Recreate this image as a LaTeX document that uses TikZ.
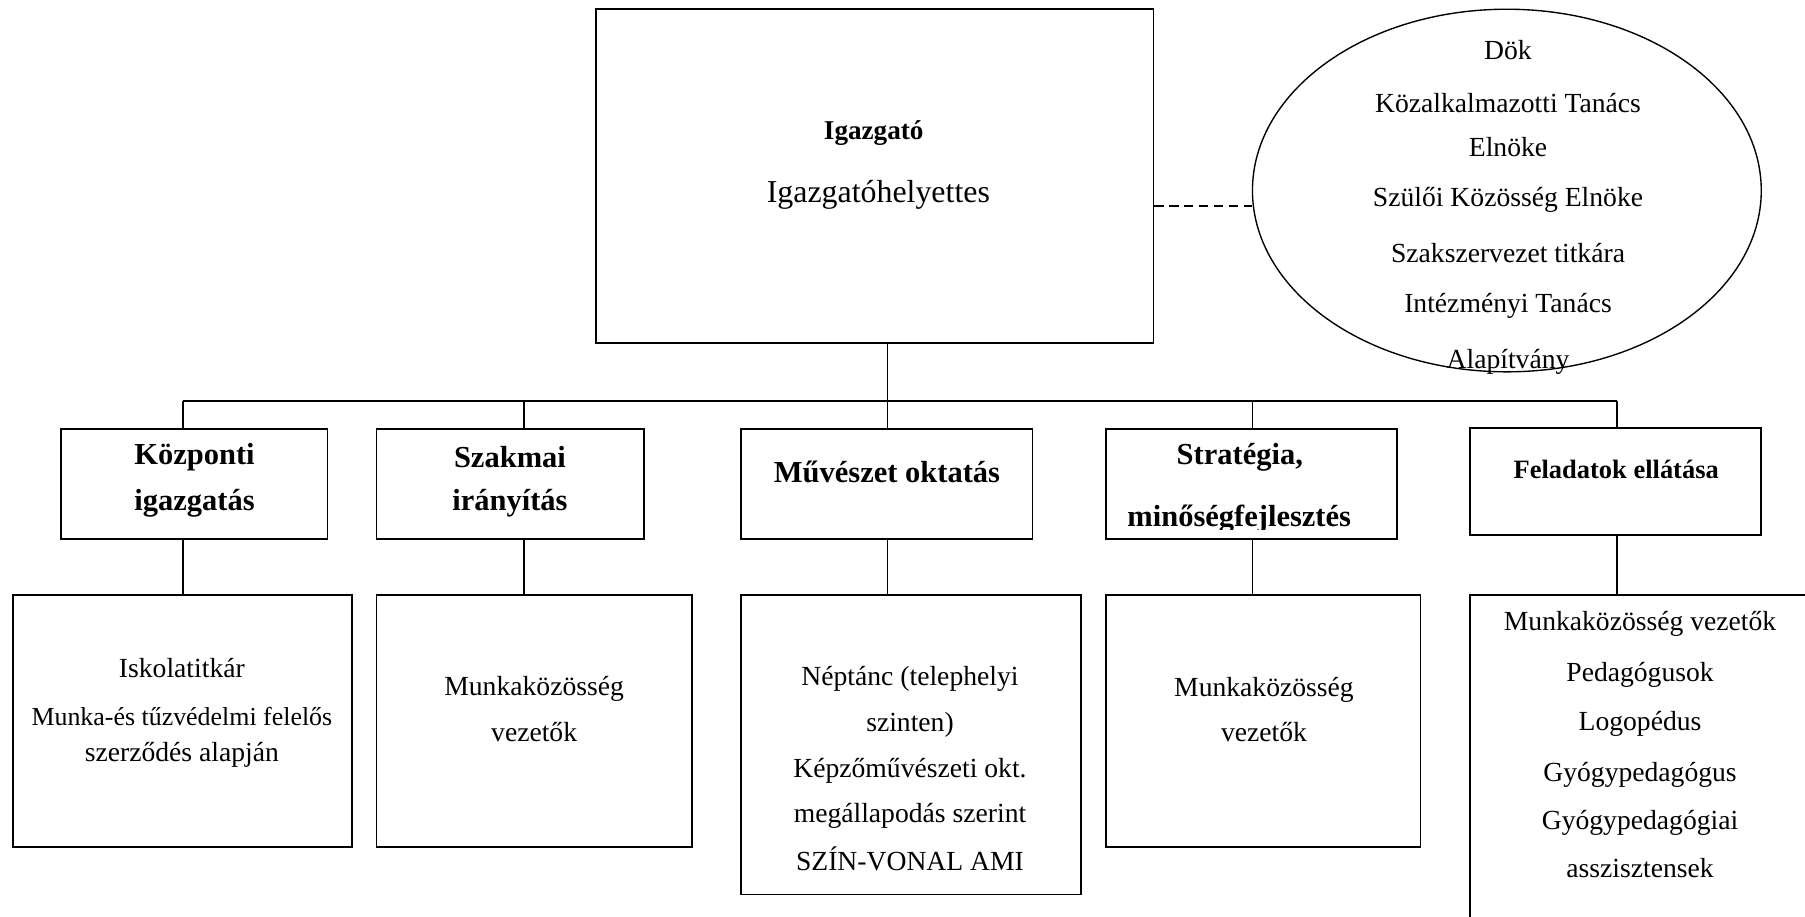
\documentclass[tikz,border=0pt]{standalone}
\usepackage{fontspec}
\setmainfont{Liberation Serif}
\usetikzlibrary{shapes.geometric}
\begin{document}
\begin{tikzpicture}[x=1pt,y=-1pt,
  box/.style={draw,line width=1.5pt,rectangle,inner sep=0pt},
  conn/.style={line width=1.3pt},
  body/.style={font=\fontsize{24}{28}\selectfont,inner sep=0pt},
  head/.style={font=\fontsize{26.5}{30}\selectfont\bfseries,inner sep=0pt}]
\useasboundingbox (0,0) rectangle (1568,796);

% top box and ellipse
\node[box,minimum width=484pt,minimum height=290pt] (T) at (760,153) {};
\node[inner sep=0pt,font=\fontsize{23.6}{28}\selectfont\bfseries] (t1) at (759,116) {Igazgató};
\node[inner sep=0pt,font=\fontsize{27.7}{32}\selectfont] (t2) at (763,169) {Igazgatóhelyettes};

\node[draw,ellipse,line width=1.2pt,minimum width=442pt,minimum height=315pt,inner sep=0pt] (E) at (1309,165.5) {};
\node[body] (e1) at (1310,43.5) {Dök};
\node[body] (e2) at (1310,89.5) {Közalkalmazotti Tanács};
\node[body] (e3) at (1310,127.5) {Elnöke};
\node[body] (e4) at (1310,174) {Szülői Közösség Elnöke};
\node[body] (e5) at (1310,220) {Szakszervezet titkára};
\node[body] (e6) at (1310,266) {Intézményi Tanács};
\node[body] (e7) at (1310,314) {Alapítvány};

\coordinate (dy) at (0,179);
\draw[line width=1.2pt,dash pattern=on 8pt off 5pt] (T.east |- dy) -- (E.west |- dy);

% header boxes
\node[box,minimum width=231.5pt,minimum height=96pt] (H1) at (168.75,420.5) {};
\node[box,minimum width=232.5pt,minimum height=96pt] (H2) at (443.25,420.5) {};
\node[box,minimum width=253pt,minimum height=96pt] (H3) at (770.5,420.5) {};
\node[box,minimum width=253pt,minimum height=96pt] (H4) at (1087,420.5) {};
\node[box,minimum width=253pt,minimum height=93.5pt] (H5) at (1403.5,418.25) {};

\node[head] (h1a) at (169,397) {Központi};
\node[head] (h1b) at (169,437) {igazgatás};
\node[head] (h2a) at (443,397) {Szakmai};
\node[head] (h2b) at (443,437) {irányítás};
\node[head] (h3a) at (770.5,410) {Művészet oktatás};
\node[head] (h4a) at (1077,397) {Stratégia,};
\begin{scope}
  \clip (H4.north west) rectangle (1213,460);
  \node[head,anchor=base] (h4b) at (1076.5,457.5) {minőségfejlesztés};
\end{scope}
\node[inner sep=0pt,font=\fontsize{23}{27}\selectfont\bfseries] (h5a) at (1404,408) {Feladatok ellátása};

% lower boxes
\node[box,minimum width=295pt,minimum height=218.5pt] (L1) at (158.5,626.25) {};
\node[box,minimum width=274pt,minimum height=218.5pt] (L2) at (464,626.25) {};
\node[box,minimum width=295.5pt,minimum height=260pt] (L3) at (791.25,647) {};
\node[box,minimum width=273.5pt,minimum height=218.5pt] (L4) at (1097.25,626.25) {};
\begin{scope}
  \clip (0,0) rectangle (1568,796);
  \node[box,minimum width=340pt,minimum height=320pt] (L5) at (1447,677) {};
\end{scope}

\node[body] (l1a) at (158,580.5) {Iskolatitkár};
\node[body,font=\fontsize{22.5}{27}\selectfont] (l1b) at (158,622) {Munka-és tűzvédelmi felelős};
\node[body] (l1c) at (158,656) {szerződés alapján};

\node[body] (l2a) at (464,598) {Munkaközösség};
\node[body] (l2b) at (464,636) {vezetők};

\node[body] (l3a) at (790.5,590) {Néptánc (telephelyi};
\node[body] (l3b) at (790.5,629.5) {szinten)};
\node[body] (l3c) at (790.5,670) {Képzőművészeti okt.};
\node[body] (l3d) at (790.5,709) {megállapodás szerint};
\node[body] (l3e) at (790.5,746) {SZÍN-VONAL AMI};

\node[body] (l4a) at (1098,599.5) {Munkaközösség};
\node[body] (l4b) at (1098,636) {vezetők};

\node[body] (l5a) at (1424.7,542) {Munkaközösség vezetők};
\node[body] (l5b) at (1424.7,586) {Pedagógusok};
\node[body] (l5c) at (1424.7,629) {Logopédus};
\node[body] (l5d) at (1424.7,673) {Gyógypedagógus};
\node[body] (l5e) at (1424.7,715) {Gyógypedagógiai};
\node[body] (l5f) at (1424.7,754) {asszisztensek};

% connectors
\coordinate (b1) at (159,348.4);
\coordinate (b2) at (455,348.4);
\coordinate (b3) at (771,348.4);
\coordinate (b4) at (1088,348.4);
\coordinate (b5) at (1404.5,348.4);

\draw[conn] (b3 |- T.south) -- (b3);
\draw[conn] (b1) -- (b5);
\draw[conn] (b1) -- (b1 |- H1.north);
\draw[conn] (b2) -- (b2 |- H2.north);
\draw[conn] (b3) -- (b3 |- H3.north);
\draw[conn] (b4) -- (b4 |- H4.north);
\draw[conn] (b5) -- (b5 |- H5.north);

\draw[conn] (b1 |- H1.south) -- (b1 |- L1.north);
\draw[conn] (b2 |- H2.south) -- (b2 |- L2.north);
\draw[conn] (b3 |- H3.south) -- (b3 |- L3.north);
\draw[conn] (b4 |- H4.south) -- (b4 |- L4.north);
\draw[conn] (b5 |- H5.south) -- (b5 |- L5.north);
\end{tikzpicture}
\end{document}
